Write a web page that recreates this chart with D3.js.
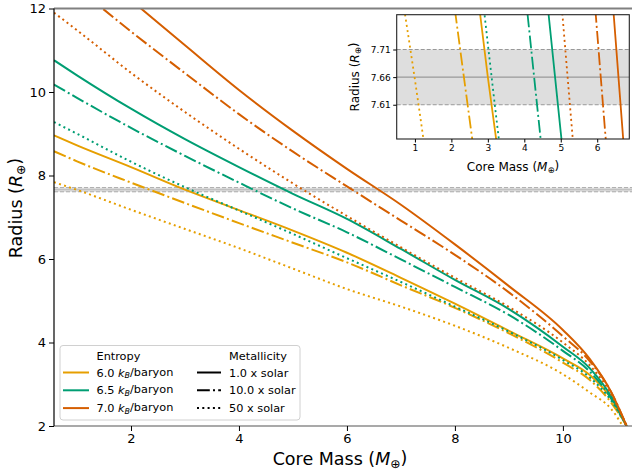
<!DOCTYPE html>
<html>
<head>
<meta charset="utf-8">
<script src="https://cdn.jsdelivr.net/npm/d3@7"></script>
<style>
  body { margin: 0; background: #fff; }
  svg { font-family: "DejaVu Sans", sans-serif; }
</style>
</head>
<body>
<div id="chart"></div>
<script>
// core mass grid (Earth masses)
var coreMass = [0.574, 1, 2, 3, 4, 5, 6, 7, 8, 9, 10, 10.5, 10.9, 11.18];

// radius (Earth radii) per entropy / metallicity
var r60_1  = [8.96, 8.72, 8.20, 7.66, 7.17, 6.68, 6.15, 5.55, 4.93, 4.28, 3.62, 3.22, 2.65, 2.0];
var r60_10 = [8.58, 8.34, 7.83, 7.34, 6.86, 6.39, 5.92, 5.37, 4.83, 4.22, 3.52, 3.10, 2.55, 2.0];
var r60_50 = [7.84, 7.655, 7.18, 6.72, 6.26, 5.77, 5.28, 4.86, 4.40, 3.87, 3.24, 2.80, 2.40, 1.84];
var r65_1  = [10.76, 10.40, 9.60, 8.87, 8.20, 7.56, 6.96, 6.24, 5.50, 4.80, 3.90, 3.38, 2.70, 2.0];
var r65_10 = [10.18, 9.86, 9.14, 8.47, 7.83, 7.21, 6.64, 5.99, 5.33, 4.66, 3.80, 3.30, 2.65, 2.0];
var r65_50 = [9.28, 9.00, 8.33, 7.72, 7.16, 6.60, 6.02, 5.45, 4.86, 4.26, 3.58, 3.16, 2.60, 2.0];
var r70_1  = [13.8, 13.3, 12.2, 11.12, 10.05, 9.07, 8.16, 7.30, 6.35, 5.35, 4.30, 3.60, 2.80, 2.0];
var r70_10 = [12.95, 12.5, 11.45, 10.45, 9.47, 8.57, 7.74, 6.92, 6.10, 5.20, 4.15, 3.55, 2.80, 2.0];
var r70_50 = [11.9, 11.48, 10.46, 9.52, 8.64, 7.81, 7.03, 6.28, 5.55, 4.85, 4.00, 3.45, 2.75, 2.0];

var entropies = ['6.0', '6.5', '7.0'];
var metallicities = ['1.0', '10.0', '50'];
var colors = {'6.0': '#E69F00', '6.5': '#009E73', '7.0': '#D55E00'};
var dashes = {'1.0': null, '10.0': '12.8,3.2,2,3.2', '50': '2,3.3'};

var observed = {mid: 7.66, lo: 7.61, hi: 7.71};
var xTicks = [2, 4, 6, 8, 10];
var yTicks = [2, 4, 6, 8, 10, 12];
var insetXTicks = [1, 2, 3, 4, 5, 6];
var insetYTicks = [7.61, 7.66, 7.71];

var series = [
    {s: '6.0', z: '1.0', r: r60_1}, {s: '6.0', z: '10.0', r: r60_10}, {s: '6.0', z: '50', r: r60_50},
    {s: '6.5', z: '1.0', r: r65_1}, {s: '6.5', z: '10.0', r: r65_10}, {s: '6.5', z: '50', r: r65_50},
    {s: '7.0', z: '1.0', r: r70_1}, {s: '7.0', z: '10.0', r: r70_10}, {s: '7.0', z: '50', r: r70_50}
];
series.forEach(function(d) {
    d.points = coreMass.map(function(m, i) { return [m, d.r[i]]; });
});

var W = 632, H = 470;
var svg = d3.select('#chart').append('svg').attr('width', W).attr('height', H);

var x = d3.scaleLinear().domain([0.574, 11.28]).range([54, 632]);
var y = d3.scaleLinear().domain([2, 12]).range([426, 8.5]);

var defs = svg.append('defs');
defs.append('clipPath').attr('id', 'clipMain').append('rect')
    .attr('x', 54).attr('y', 8.5).attr('width', 632 - 54).attr('height', 426 - 8.5);

// observed band
var main = svg.append('g').attr('clip-path', 'url(#clipMain)');
main.append('rect')
    .attr('x', 54).attr('width', 632 - 54)
    .attr('y', y(observed.hi)).attr('height', y(observed.lo) - y(observed.hi))
    .attr('fill', '#dcdcdc');
main.selectAll('line.band').data([observed.lo, observed.hi]).enter().append('line')
    .attr('x1', 54).attr('x2', 632)
    .attr('y1', function(d) { return y(d); }).attr('y2', function(d) { return y(d); })
    .attr('stroke', '#aaa').attr('stroke-width', 1).attr('stroke-dasharray', '4,2');
main.append('line')
    .attr('x1', 54).attr('x2', 632).attr('y1', y(observed.mid)).attr('y2', y(observed.mid))
    .attr('stroke', '#bbb').attr('stroke-width', 1);

function drawLines(g, xs, ys, lw) {
    var line = d3.line()
        .x(function(p) { return xs(p[0]); })
        .y(function(p) { return ys(p[1]); })
        .curve(d3.curveMonotoneX);
    g.selectAll('path.curve').data(series).enter().append('path')
        .attr('class', 'curve')
        .attr('d', function(d) { return line(d.points); })
        .attr('fill', 'none')
        .attr('stroke', function(d) { return colors[d.s]; })
        .attr('stroke-width', lw)
        .attr('stroke-dasharray', function(d) { return dashes[d.z]; });
}
drawLines(main, x, y, 2);

// spines
svg.append('line').attr('x1', 54).attr('x2', 632).attr('y1', 8.5).attr('y2', 8.5)
    .attr('stroke', '#808080').attr('stroke-width', 2);
svg.append('line').attr('x1', 54).attr('x2', 632).attr('y1', 426).attr('y2', 426)
    .attr('stroke', '#555').attr('stroke-width', 1.2);
svg.append('line').attr('x1', 54).attr('x2', 54).attr('y1', 8.5).attr('y2', 426)
    .attr('stroke', '#000').attr('stroke-width', 1.2);

var xAxis = svg.append('g').attr('transform', 'translate(0,426)')
    .call(d3.axisBottom(x).tickValues(xTicks).tickSize(5).tickPadding(3).tickFormat(d3.format('d')));
var yAxis = svg.append('g').attr('transform', 'translate(54,0)')
    .call(d3.axisLeft(y).tickValues(yTicks).tickSize(5).tickPadding(3).tickFormat(d3.format('d')));
[xAxis, yAxis].forEach(function(a) {
    a.select('.domain').remove();
    a.selectAll('text').attr('font-size', 13).attr('fill', '#000').attr('font-family', 'DejaVu Sans');
    a.selectAll('line').attr('stroke', '#000');
});

function massLabel(g, xc, yc, size, rotate) {
    var t = g.append('text')
        .attr('text-anchor', 'middle')
        .attr('font-size', size)
        .attr('transform', 'translate(' + xc + ',' + yc + ')' + (rotate ? ' rotate(-90)' : ''));
    return t;
}
function addSymbolLabel(t, word, sym) {
    t.append('tspan').text(word + ' (');
    t.append('tspan').attr('font-style', 'italic').text(sym);
    t.append('tspan').attr('font-size', '70%').attr('dy', '0.25em').text('\u2295');
    t.append('tspan').attr('dy', '-0.25em').text(')');
}
addSymbolLabel(massLabel(svg, 340, 465, 17.5, false), 'Core Mass', 'M');
addSymbolLabel(massLabel(svg, 22, 208, 17.5, true), 'Radius', 'R');

// legend
var lg = svg.append('g').attr('transform', 'translate(60,345.5)');
lg.append('rect').attr('width', 240).attr('height', 74.5).attr('rx', 3)
    .attr('fill', '#fff').attr('fill-opacity', 0.85).attr('stroke', '#d0d0d0');
lg.append('text').attr('x', 36.5).attr('y', 14).attr('font-size', 11.3).text('Entropy');
lg.append('text').attr('x', 169).attr('y', 14).attr('font-size', 11.3).text('Metallicity');
entropies.forEach(function(s, i) {
    var yy = 27 + i * 17.8;
    lg.append('line').attr('x1', 3).attr('x2', 29).attr('y1', yy).attr('y2', yy)
        .attr('stroke', colors[s]).attr('stroke-width', 2);
    var t = lg.append('text').attr('x', 36.5).attr('y', yy + 4).attr('font-size', 11.3);
    t.append('tspan').text(s + ' ');
    t.append('tspan').attr('font-style', 'italic').text('k');
    t.append('tspan').attr('font-style', 'italic').attr('font-size', '70%').attr('dy', '0.25em').text('B');
    t.append('tspan').attr('dy', '-0.25em').text('/baryon');
});
metallicities.forEach(function(z, i) {
    var yy = 27 + i * 17.8;
    lg.append('line').attr('x1', 137).attr('x2', 161).attr('y1', yy).attr('y2', yy)
        .attr('stroke', '#000').attr('stroke-width', 2)
        .attr('stroke-dasharray', dashes[z]);
    lg.append('text').attr('x', 169).attr('y', yy + 4).attr('font-size', 11.3).text(z + ' x solar');
});

// inset
var ix = d3.scaleLinear().domain([0.5, 6.88]).range([396.7, 629.3]);
var iy = d3.scaleLinear().domain([7.548, 7.773]).range([139, 14.7]);
defs.append('clipPath').attr('id', 'clipInset').append('rect')
    .attr('x', 396.7).attr('y', 14.7).attr('width', 629.3 - 396.7).attr('height', 139 - 14.7);
svg.append('rect').attr('x', 396.7).attr('y', 14.7).attr('width', 629.3 - 396.7).attr('height', 139 - 14.7)
    .attr('fill', '#fff');
var inset = svg.append('g').attr('clip-path', 'url(#clipInset)');
inset.append('rect')
    .attr('x', 396.7).attr('width', 629.3 - 396.7)
    .attr('y', iy(observed.hi)).attr('height', iy(observed.lo) - iy(observed.hi))
    .attr('fill', '#dedede');
inset.selectAll('line.band').data([observed.lo, observed.hi]).enter().append('line')
    .attr('x1', 396.7).attr('x2', 629.3)
    .attr('y1', function(d) { return iy(d); }).attr('y2', function(d) { return iy(d); })
    .attr('stroke', '#999').attr('stroke-width', 1).attr('stroke-dasharray', '4,2');
inset.append('line')
    .attr('x1', 396.7).attr('x2', 629.3).attr('y1', iy(observed.mid)).attr('y2', iy(observed.mid))
    .attr('stroke', '#999').attr('stroke-width', 1.3);
drawLines(inset, ix, iy, 1.8);
svg.append('rect').attr('x', 396.7).attr('y', 14.7).attr('width', 629.3 - 396.7).attr('height', 139 - 14.7)
    .attr('fill', 'none').attr('stroke', '#222').attr('stroke-width', 1.1);

var ixAxis = svg.append('g').attr('transform', 'translate(0,139)')
    .call(d3.axisBottom(ix).tickValues(insetXTicks).tickSize(3.5).tickPadding(2.5).tickFormat(d3.format('d')));
var iyAxis = svg.append('g').attr('transform', 'translate(396.7,0)')
    .call(d3.axisLeft(iy).tickValues(insetYTicks).tickSize(3.5).tickPadding(2.5).tickFormat(d3.format('.2f')));
[ixAxis, iyAxis].forEach(function(a) {
    a.select('.domain').remove();
    a.selectAll('text').attr('font-size', 9).attr('fill', '#000').attr('font-family', 'DejaVu Sans');
    a.selectAll('line').attr('stroke', '#000');
});
addSymbolLabel(massLabel(svg, 513, 171, 12, false), 'Core Mass', 'M');
addSymbolLabel(massLabel(svg, 359, 77, 12, true), 'Radius', 'R');
</script>
</body>
</html>
